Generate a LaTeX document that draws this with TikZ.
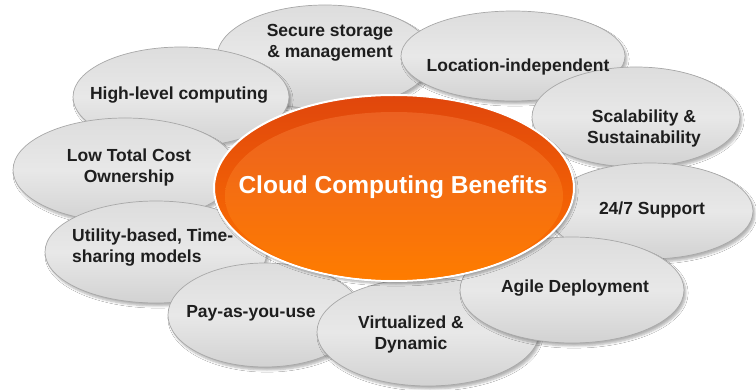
\documentclass[tikz,border=0pt]{standalone}
\usepackage{fontspec}
\setmainfont{Liberation Sans}
\usetikzlibrary{shapes.geometric,shadows.blur}
\definecolor{gtop}{HTML}{DDDDDD}
\definecolor{gmid}{HTML}{E8E8E8}
\definecolor{gbot}{HTML}{D2D2D2}
\definecolor{gline}{HTML}{A8A8A8}
\definecolor{otop}{HTML}{E0460C}
\definecolor{obot}{HTML}{FF7400}
\definecolor{htop}{HTML}{EE6626}
\definecolor{hbot}{HTML}{FF7E00}
\definecolor{txt}{HTML}{1E1E1E}
\tikzset{
  bubble/.style={ellipse, draw=gline, line width=0.7pt, top color=gtop, bottom color=gbot, middle color=gmid, inner sep=0pt,
    blur shadow={shadow xshift=2pt, shadow yshift=-3pt, shadow blur steps=6, shadow opacity=30}},
  lbl/.style={font=\fontsize{17.5}{21}\selectfont\bfseries, text=txt, align=center, inner sep=0pt},
}
\begin{document}
\begin{tikzpicture}[x=1pt,y=-1pt]
\fill[white] (0,0) rectangle (756,390);
\useasboundingbox (0,0) rectangle (756,390);
% bubbles, back to front
\node[bubble, minimum width=216pt, minimum height=104pt] (secure) at (325,57) {};
\node[bubble, minimum width=224pt, minimum height=90pt] (loc) at (513,56) {};
\node[bubble, minimum width=216pt, minimum height=100pt] (high) at (181,97) {};
\node[bubble, minimum width=208pt, minimum height=100pt] (scal) at (636,117) {};
\node[bubble, minimum width=224pt, minimum height=104pt] (low) at (125,170) {};
\node[bubble, minimum width=206pt, minimum height=96pt] (supp) at (650,211) {};
\node[bubble, minimum width=222pt, minimum height=102pt] (util) at (156,252) {};
\node[bubble, minimum width=194pt, minimum height=104pt] (pay) at (265,315) {};
\node[bubble, minimum width=222pt, minimum height=108pt] (virt) at (428,332) {};
\node[bubble, minimum width=224pt, minimum height=106pt] (agile) at (572,290) {};
% central ellipse
\node[ellipse, minimum width=360pt, minimum height=186pt, inner sep=0pt, top color=otop, bottom color=obot, draw=white, line width=2pt,
  blur shadow={shadow xshift=2pt, shadow yshift=-3pt, shadow blur steps=6, shadow opacity=30}] (core) at (394,188) {};
\node[ellipse, minimum width=338pt, minimum height=168pt, inner sep=0pt, top color=htop, bottom color=hbot, opacity=0.85] (corehl) at (394,196) {};
\node[font=\fontsize{24.5}{28}\selectfont\bfseries, text=white, inner sep=0pt] (title) at (393,187) {Cloud Computing Benefits};
% labels
\node[lbl] (tsecure) at (330,43) {Secure storage\\\& management};
\node[lbl] (tloc) at (518,67) {Location-independent};
\node[lbl] (thigh) at (179,95) {High-level computing};
\node[lbl] (tscal) at (644,128) {Scalability \&\\Sustainability};
\node[lbl] (tlow) at (129,167) {Low Total Cost\\Ownership};
\node[lbl] (tsupp) at (652,210) {24/7 Support};
\node[lbl, align=left, anchor=west] (tutil) at (72,248) {Utility-based, Time-\\sharing models};
\node[lbl] (tpay) at (251,313) {Pay-as-you-use};
\node[lbl] (tvirt) at (411,334) {Virtualized \&\\Dynamic};
\node[lbl] (tagile) at (575,288) {Agile Deployment};
\end{tikzpicture}
\end{document}
